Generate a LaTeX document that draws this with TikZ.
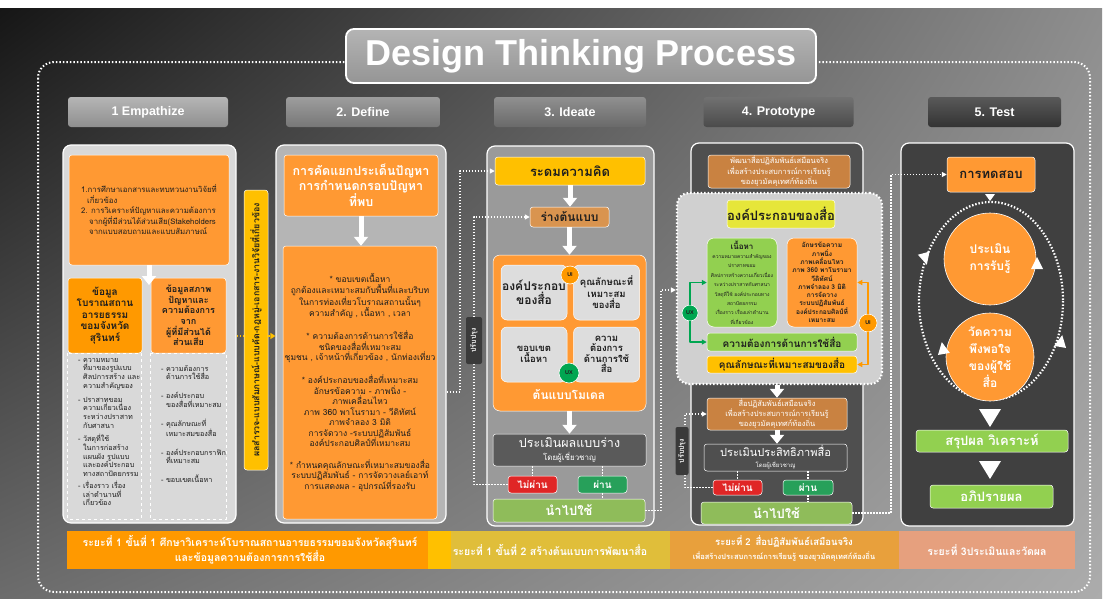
\documentclass[tikz,border=0pt]{standalone}
\usepackage{fontspec}
\setmainfont{Liberation Sans}
\newfontfamily\thai[Script=Thai]{Loma}
\usetikzlibrary{arrows.meta, positioning, shadings}
\definecolor{bgtl}{HTML}{161616}
\definecolor{bgtr}{HTML}{8E8E8E}
\definecolor{bgbl}{HTML}{6C6C6C}
\definecolor{bgbr}{HTML}{ACACAC}
\definecolor{ttlA}{HTML}{B4B4B4}
\definecolor{ttlB}{HTML}{959595}
\definecolor{hd1}{HTML}{A8A8A8}
\definecolor{hd2}{HTML}{8C8C8C}
\definecolor{hd3}{HTML}{7C7C7C}
\definecolor{hd4}{HTML}{585858}
\definecolor{hd5}{HTML}{3C3C3C}
\definecolor{org}{HTML}{FF9933}
\definecolor{orgdk}{HTML}{FF9900}
\definecolor{ylw}{HTML}{FFC000}
\definecolor{tanA}{HTML}{D9944F}
\definecolor{tanB}{HTML}{C98241}
\definecolor{lgrn}{HTML}{92D050}
\definecolor{usegrn}{HTML}{8FBC5A}
\definecolor{okgrn}{HTML}{27A05A}
\definecolor{nored}{HTML}{E02626}
\definecolor{uxgrn}{HTML}{00A651}
\definecolor{limeA}{HTML}{E6E63A}
\definecolor{txtdk}{HTML}{1E1E1E}
\definecolor{pA}{HTML}{D9D9D9}
\definecolor{pB}{HTML}{B5B5B5}
\definecolor{pC}{HTML}{9A9A9A}
\definecolor{pD}{HTML}{4F4F4F}
\definecolor{pE}{HTML}{404040}
\definecolor{pF}{HTML}{D0D0D0}
\definecolor{cellg}{HTML}{DDDDDD}
\definecolor{evalg}{HTML}{5A5A5A}
\definecolor{tabg}{HTML}{3A3A3A}
\definecolor{barA}{HTML}{FF9900}
\definecolor{barB}{HTML}{E0BE3A}
\definecolor{barC}{HTML}{E8A03C}
\definecolor{barD}{HTML}{E6A07E}
\newcommand{\tsz}[2]{\fontsize{#1}{#2}\selectfont}

\begin{document}
\begin{tikzpicture}[x=1pt, y=-1pt, line join=round,
  box/.style={draw=white, line width=0.5pt, rounded corners=3pt, inner sep=0pt, align=center, text=txtdk},
  pnl/.style={draw=white, line width=1.2pt, rounded corners=8pt, inner sep=0pt},
  hdr/.style={rounded corners=3pt, minimum height=30pt, inner sep=0pt, text=white, font=\bfseries\tsz{12.5}{14}},
  txt/.style={inner sep=0pt, align=center, text=txtdk},
  wtxt/.style={inner sep=0pt, align=center, text=white},
  cir/.style={circle, draw=white, line width=0.6pt, inner sep=0pt, font=\bfseries\tsz{5.5}{6}, text=txtdk},
  tabbox/.style={rotate=90, fill=tabg, rounded corners=2pt, inner sep=0pt, text=white, font=\thai\bfseries\tsz{7}{8}},
  dln/.style={white, line width=1.4pt, dash pattern=on 1.4pt off 1.6pt, -{Triangle[length=5pt,width=5pt]}},
  yln/.style={ylw, line width=1.6pt, dash pattern=on 1.6pt off 1.6pt},
  gln/.style={uxgrn, line width=1.2pt, -{Triangle[length=5pt,width=5pt]}},
  oln/.style={orgdk, line width=1.2pt, -{Triangle[length=5pt,width=5pt]}},
  warr/.style={white, line width=5pt, -{Triangle[length=9pt,width=14pt]}}]
\useasboundingbox (0,0) rectangle (1110,605);
\fill[white] (0,0) rectangle (1110,605);
\shade[upper left=bgtl, upper right=bgtr, lower left=bgbl, lower right=bgbr] (0,8) rectangle (1102,598);
\draw[white, line width=2pt, dash pattern=on 1.5pt off 2pt, rounded corners=16pt] (38,62) rectangle (1090,592);

% title and phase headers
\node[draw=white, line width=1.8pt, rounded corners=8pt, top color=ttlA, bottom color=ttlB,
  minimum width=470pt, minimum height=54pt, text=white, font=\bfseries\tsz{36}{40}] (ttl) at (581,56) {Design Thinking Process};
\foreach \cx/\w/\c/\t [count=\i] in {148/160pt/hd1/1 Empathize, 363/154pt/hd2/2. Define,
    570/152pt/hd3/3. Ideate, 778.5/150pt/hd4/4. Prototype, 994.5/133pt/hd5/5. Test}
  \node[hdr, top color=\c!85!white, bottom color=\c!85!black, minimum width=\w] (h\i) at (\cx,112) {\t};

% 1 empathize
\node[pnl, fill=pA, minimum width=173pt, minimum height=378pt] (p1) at (149.5,334) {};
\node[box, fill=org, minimum width=160pt, minimum height=110pt, align=left, font=\thai\tsz{7.8}{10.5}] (e1) at (149,210)
  {1.การศึกษาเอกสารและทบทวนงานวิจัยที่\\
   \hspace*{6pt}เกี่ยวข้อง\\
   2. การวิเคราะห์ปัญหาและความต้องการ\\
   \hspace*{8pt}จากผู้ที่มีส่วนได้ส่วนเสีย(Stakeholders\\
   \hspace*{8pt}จากแบบสอบถามและแบบสัมภาษณ์};
\node[box, fill=orgdk, minimum width=74pt, minimum height=75pt, font=\thai\bfseries\tsz{10}{11.5}] (e1a) at (105,315.5)
  {ข้อมูล\\โบราณสถาน\\อารยธรรม\\ขอมจังหวัด\\สุรินทร์};
\node[box, fill=org, minimum width=75pt, minimum height=75pt, font=\thai\bfseries\tsz{9}{10.6}] (e1b) at (188.5,315.5)
  {ข้อมูลสภาพ\\ปัญหาและ\\ความต้องการ\\จาก\\ผู้ที่มีส่วนได้\\ส่วนเสีย};
\coordinate (a1) at (149,285);
\draw[warr] (e1.south) -- (a1);
\draw[white, dashed, line width=0.6pt] (e1a.south west) rectangle (141,519);
\draw[white, dashed, line width=0.6pt] (e1b.south west) rectangle (226,519);
\node[txt, anchor=north west, align=left, font=\thai\tsz{7.2}{8.7}] (e1c) at (78,358)
  {- ความหมาย\\ \hspace*{5pt}ที่มาของรูปแบบ\\ \hspace*{5pt}ศิลปการสร้าง และ\\ \hspace*{5pt}ความสำคัญของ\\[5pt]
   - ปราสาทขอม\\ \hspace*{5pt}ความเกี่ยวเนื่อง\\ \hspace*{5pt}ระหว่างปราสาท\\ \hspace*{5pt}กับศาสนา\\[5pt]
   - วัสดุที่ใช้\\ \hspace*{5pt}ในการก่อสร้าง\\ \hspace*{5pt}แผนผัง รูปแบบ\\ \hspace*{5pt}และองค์ประกอบ\\ \hspace*{5pt}ทางสถาปัตยกรรม\\[3pt]
   - เรื่องราว เรื่อง\\ \hspace*{5pt}เล่าตำนานที่\\ \hspace*{5pt}เกี่ยวข้อง};
\node[txt, anchor=north west, align=left, font=\thai\tsz{7.2}{8.7}] (e1d) at (161,365)
  {- ความต้องการ\\ \hspace*{5pt}ด้านการใช้สื่อ\\[10pt]
   - องค์ประกอบ\\ \hspace*{5pt}ของสื่อที่เหมาะสม\\[10pt]
   - คุณลักษณะที่\\ \hspace*{5pt}เหมาะสมของสื่อ\\[10pt]
   - องค์ประกอบกราฟิก\\ \hspace*{5pt}ที่เหมาะสม\\[10pt]
   - ขอบเขตเนื้อหา};

% source bar
\node[box, fill=ylw, draw=white, minimum width=24pt, minimum height=280pt] (y1) at (256,330) {};
\node[txt, rotate=90, font=\thai\bfseries\tsz{8.8}{9}] (y1t) at (y1) {ผลสำรวจ-แบบสัมภาษณ์-แบบคัด-กฎหมู่-เอกสาร-งานวิจัยที่เกี่ยวข้อง};

% 2 define
\node[pnl, fill=pB, minimum width=170pt, minimum height=378pt] (p2) at (361,334) {};
\node[box, fill=org, minimum width=154pt, minimum height=61pt, text=white, font=\thai\bfseries\tsz{12.5}{15}] (d1) at (361,185.5)
  {การคัดแยกประเด็นปัญหา\\การกำหนดกรอบปัญหา\\ที่พบ};
\node[box, fill=org, minimum width=154pt, minimum height=273pt, font=\thai\tsz{8.5}{10.5}] (d2) at (360,382.5)
  {* ขอบเขตเนื้อหา\\
   ถูกต้องและเหมาะสมกับพื้นที่และบริบท\\
   ในการท่องเที่ยวโบราณสถานนั้นๆ\\
   ความสำคัญ , เนื้อหา , เวลา\\[11pt]
   * ความต้องการด้านการใช้สื่อ\\
   ชนิดของสื่อที่เหมาะสม\\
   ชุมชน , เจ้าหน้าที่เกี่ยวข้อง , นักท่องเที่ยว\\[11pt]
   * องค์ประกอบของสื่อที่เหมาะสม\\
   อักษรข้อความ - ภาพนิ่ง -\\
   ภาพเคลื่อนไหว\\
   ภาพ 360 พาโนรามา - วีดิทัศน์\\
   ภาพจำลอง 3 มิติ\\
   การจัดวาง -ระบบปฏิสัมพันธ์\\
   องค์ประกอบศิลป์ที่เหมาะสม\\[11pt]
   * กำหนดคุณลักษณะที่เหมาะสมของสื่อ\\
   ระบบปฏิสัมพันธ์ - การจัดวางเลย์เอาท์\\
   การแสดงผล - อุปกรณ์ที่รองรับ};
\draw[warr] (d1.south) -- (d1.south |- d2.north);
\coordinate (yl) at (0,336);
\draw[yln] (p1.east |- yl) -- (y1.west |- yl);
\draw[yln, -{Triangle[length=5pt,width=6pt]}] (y1.east |- yl) -- (p2.west |- yl);

% 3 ideate
\node[pnl, fill=pC, minimum width=167pt, minimum height=380pt] (p3) at (570.5,336) {};
\node[box, fill=ylw, minimum width=150pt, minimum height=28pt, font=\thai\bfseries\tsz{13}{15}] (i1) at (570,171) {ระดมความคิด};
\node[box, fill=tanA, minimum width=79pt, minimum height=20pt, font=\thai\bfseries\tsz{12}{14}] (i2) at (569.5,217) {ร่างต้นแบบ};
\node[box, fill=org, rounded corners=7pt, minimum width=153pt, minimum height=156pt] (i3) at (569.5,333) {};
\node[box, fill=cellg, rounded corners=6pt, minimum width=66pt, minimum height=55pt, font=\thai\bfseries\tsz{12}{14}] (c1) at (534,292.5) {องค์ประกอบ\\ของสื่อ};
\node[box, fill=cellg, rounded corners=6pt, minimum width=66pt, minimum height=55pt, font=\thai\bfseries\tsz{9.5}{11.5}] (c2) at (606.5,292.5) {คุณลักษณะที่\\เหมาะสม\\ของสื่อ};
\node[box, fill=cellg, rounded corners=6pt, minimum width=66pt, minimum height=55pt, font=\thai\bfseries\tsz{9.5}{11.5}] (c3) at (534,354.5) {ขอบเขต\\เนื้อหา};
\node[box, fill=cellg, rounded corners=6pt, minimum width=66pt, minimum height=55pt, font=\thai\bfseries\tsz{9.5}{10.5}] (c4) at (606.5,354.5) {ความ\\ต้องการ\\ด้านการใช้\\สื่อ};
\node[cir, fill=orgdk, minimum size=18pt] (ui1) at (570,275) {UI};
\node[cir, fill=uxgrn, minimum size=20pt] (ux1) at (569,373) {UX};
\node[wtxt, font=\thai\bfseries\tsz{12}{14}] (i4) at (569,395) {ต้นแบบโมเดล};
\node[box, fill=evalg, minimum width=153pt, minimum height=32pt, text=white, font=\thai\tsz{12.5}{13}] (i5) at (569.5,450)
  {ประเมินผลแบบร่าง\\{\tsz{8}{9}โดยผู้เชี่ยวชาญ}};
\node[box, fill=nored, minimum width=49pt, minimum height=17pt, text=white, font=\thai\bfseries\tsz{10}{11}] (i6) at (532.5,484.5) {ไม่ผ่าน};
\node[box, fill=okgrn, minimum width=49pt, minimum height=17pt, text=white, font=\thai\bfseries\tsz{10}{11}] (i7) at (602.5,484.5) {ผ่าน};
\node[box, fill=usegrn, minimum width=152pt, minimum height=23pt, text=white, font=\thai\bfseries\tsz{13}{14}] (i8) at (569,510.5) {นำไปใช้};
\draw[warr] (i1.south) -- (i1.south |- i2.north);
\draw[warr] (i2.south) -- (i2.south |- i3.north);
\draw[warr] (i3.south) -- (i3.south |- i5.north);
\draw[dln, -] (i5.south -| i6) -- (i6.north);
\draw[dln, -] (i5.south -| i7) -- (i7.north);
\draw[dln, -] (i7.south) -- (i8.north -| i7);
\coordinate (c23) at (460,392);
\draw[dln] (p2.east |- c23) -- (c23) |- (i1.west);
\coordinate (f3) at (474,484.5);
\draw[dln] (i6.west) -- (f3) |- (i2.west);
\node[tabbox, minimum width=47pt, minimum height=16pt] (t3) at (474,340.5) {ปรับปรุง};

% 4 prototype
\node[pnl, fill=pD, minimum width=172pt, minimum height=382pt] (p4) at (777,334) {};
\node[box, fill=tanB, minimum width=142pt, minimum height=33pt, text=white, font=\thai\tsz{7.5}{9}] (r1) at (779,171.5)
  {พัฒนาสื่อปฏิสัมพันธ์เสมือนจริง\\เพื่อสร้างประสบการณ์การเรียนรู้\\ของยุวมัคคุเทศก์ท้องถิ่น};
\node[fill=pF, draw=white, line width=2.2pt, dash pattern=on 1.5pt off 2pt, rounded corners=12pt,
  minimum width=205pt, minimum height=191pt, inner sep=0pt] (r0) at (779.5,288.5) {};
\node[box, fill=limeA, minimum width=102pt, minimum height=28pt, font=\thai\bfseries\tsz{13}{15}] (r2) at (781,214) {องค์ประกอบของสื่อ};
\node[box, fill=lgrn, rounded corners=7pt, minimum width=70pt, minimum height=89pt, font=\thai\tsz{5}{9.4}] (r3) at (742,282.5)
  {{\bfseries\tsz{8}{9}เนื้อหา}\\ความหมายความสำคัญของ\\ปราสาทขอม\\ศิลปการสร้างความเกี่ยวเนื่อง\\ระหว่างปราสาทกับศาสนา\\
   วัสดุที่ใช้ องค์ประกอบทาง\\สถาปัตยกรรม\\เรื่องราว เรื่องเล่าตำนาน\\ที่เกี่ยวข้อง};
\node[box, fill=org, rounded corners=7pt, minimum width=70pt, minimum height=89pt, font=\thai\bfseries\tsz{6.6}{8.3}] (r4) at (822,282.5)
  {อักษรข้อความ\\ภาพนิ่ง\\ภาพเคลื่อนไหว\\ภาพ 360 พาโนรามา\\วีดิทัศน์\\ภาพจำลอง 3 มิติ\\การจัดวาง\\ระบบปฏิสัมพันธ์\\องค์ประกอบศิลป์ที่\\เหมาะสม};
\node[box, fill=lgrn, minimum width=150pt, minimum height=18pt, font=\thai\bfseries\tsz{10}{11}] (r5) at (782,342) {ความต้องการด้านการใช้สื่อ};
\node[box, fill=ylw, minimum width=150pt, minimum height=17pt, font=\thai\bfseries\tsz{10}{11}] (r6) at (782,364.5) {คุณลักษณะที่เหมาะสมของสื่อ};
\node[cir, fill=uxgrn, minimum size=16pt] (ux2) at (690,313) {UX};
\node[cir, fill=orgdk, minimum size=18pt] (ui2) at (868,323) {UI};
\draw[gln] (ux2.north) |- (r3.west);
\draw[gln] (ux2.south) |- (r5.west);
\draw[oln] (ui2.north) |- (r4.east);
\draw[oln] (ui2.south) |- (r6.east);
\node[box, fill=tanB, minimum width=140pt, minimum height=32pt, text=white, font=\thai\tsz{7.5}{10}] (r7) at (777,414)
  {สื่อปฏิสัมพันธ์เสมือนจริง\\เพื่อสร้างประสบการณ์การเรียนรู้\\ของยุวมัคคุเทศก์ท้องถิ่น};
\node[box, fill=pD, minimum width=143pt, minimum height=27pt, text=white, font=\thai\tsz{11}{11}] (r8) at (775.5,457.5)
  {ประเมินประสิทธิภาพสื่อ\\{\tsz{6}{7}โดยผู้เชี่ยวชาญ}};
\node[box, fill=nored, minimum width=49pt, minimum height=15pt, text=white, font=\thai\bfseries\tsz{10}{11}] (r9) at (737.5,487.5) {ไม่ผ่าน};
\node[box, fill=okgrn, minimum width=50pt, minimum height=15pt, text=white, font=\thai\bfseries\tsz{10}{11}] (r10) at (808,487.5) {ผ่าน};
\node[box, fill=usegrn, minimum width=151pt, minimum height=22pt, text=white, font=\thai\bfseries\tsz{13}{14}] (r11) at (776.5,513) {นำไปใช้};
\draw[warr] (r7.north |- r0.south) -- (r7.north);
\draw[warr] (r7.south) -- (r7.south |- r8.north);
\draw[dln, -] (r8.south -| r9) -- (r9.north);
\draw[dln, -] (r8.south -| r10) -- (r10.north);
\draw[dln, -] (r10.south) -- (r11.north -| r10);
\coordinate (c34) at (661,290);
\draw[dln] (i8.east) -| (c34) -- (r0.west |- c34);
\coordinate (f4) at (685,487.5);
\draw[dln] (r9.west) -- (f4) |- (r7.west);
\node[tabbox, minimum width=48pt, minimum height=13pt] (t4) at (682,451) {ปรับปรุง};

% 5 test
\node[pnl, fill=pE, minimum width=173pt, minimum height=383pt] (p5) at (987.5,334.5) {};
\node[box, fill=org, minimum width=88pt, minimum height=35pt, font=\thai\bfseries\tsz{13}{15}] (s1) at (991,174.5) {การทดสอบ};
\coordinate (c45) at (891,513);
\draw[dln] (r11.east) -- (c45) |- (s1.west);
\fill[white] (985,194) -- (995,194) -- (990,201) -- cycle;
\draw[white, line width=2.2pt, dash pattern=on 1.5pt off 1.8pt] (991,301) ellipse [x radius=72, y radius=99];
\node[circle, fill=org, draw=white, line width=0.6pt, minimum size=92pt, inner sep=0pt, align=center, text=white,
  font=\thai\bfseries\tsz{12}{17}] (k1) at (990,259) {ประเมิน\\การรับรู้};
\node[circle, fill=org, draw=white, line width=0.6pt, minimum size=88pt, inner sep=0pt, align=center, text=white,
  font=\thai\bfseries\tsz{12}{17}] (k2) at (990,357) {วัดความ\\พึงพอใจ\\ของผู้ใช้\\สื่อ};
\foreach \px/\py/\a in {925/258/195, 1037/264/0, 943/349/10, 1061/342/-10}
  \fill[white, shift={(\px,\py)}, rotate=\a] (0,-7) -- (6,5) -- (-6,5) -- cycle;
\foreach \ty in {409,461}
  \fill[white] (979,\ty) -- (1001,\ty) -- (990,{\ty+18}) -- cycle;
\node[box, fill=lgrn, minimum width=152pt, minimum height=22pt, text=white, font=\thai\bfseries\tsz{13}{14}] (s2) at (992,441) {สรุปผล วิเคราะห์};
\node[box, fill=lgrn, minimum width=123pt, minimum height=23pt, text=white, font=\thai\bfseries\tsz{13}{14}] (s3) at (991.5,496.5) {อภิปรายผล};

% stage bar
\fill[barA] (67,531) rectangle (428,569);
\fill[ylw] (428,531) rectangle (451,569);
\fill[barB] (451,531) rectangle (670,569);
\fill[barC] (670,531) rectangle (899,569);
\fill[barD] (899,531) rectangle (1075,569);
\node[wtxt, font=\thai\bfseries\tsz{10.5}{15}] (b1) at (250,550)
  {ระยะที่ 1 ขั้นที่ 1 ศึกษาวิเคราะห์โบราณสถานอารยธรรมขอมจังหวัดสุรินทร์\\และข้อมูลความต้องการการใช้สื่อ};
\node[wtxt, font=\thai\bfseries\tsz{10.5}{12}] (b2) at (550,550) {ระยะที่ 1 ขั้นที่ 2 สร้างต้นแบบการพัฒนาสื่อ};
\node[wtxt, font=\thai\bfseries\tsz{9.5}{14}] (b3) at (784,549)
  {ระยะที่ 2\enspace สื่อปฏิสัมพันธ์เสมือนจริง\\{\tsz{7.5}{8}เพื่อสร้างประสบการณ์การเรียนรู้ ของยุวมัคคุเทศก์ท้องถิ่น}};
\node[wtxt, font=\thai\bfseries\tsz{10.5}{12}] (b4) at (987,550) {ระยะที่ 3ประเมินและวัดผล};
\end{tikzpicture}
\end{document}
